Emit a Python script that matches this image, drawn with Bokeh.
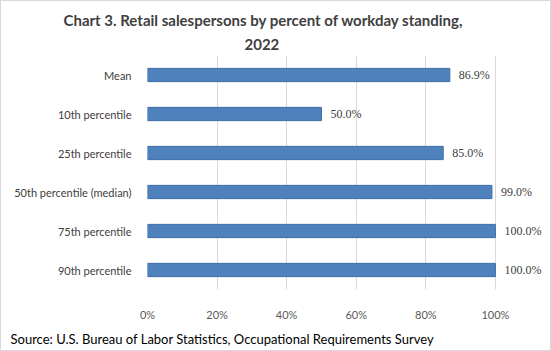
from bokeh.plotting import figure
from bokeh.models import (ColumnDataSource, FactorRange, Title, PrintfTickFormatter, FixedTicker,
                          LabelSet, InlineStyleSheet)
from bokeh.embed import file_html
from bokeh.resources import INLINE

categories = ["Mean", "10th percentile", "25th percentile", "50th percentile (median)",
              "75th percentile", "90th percentile"]
values = [86.9, 50.0, 85.0, 99.0, 100.0, 100.0]
labels = ["86.9%", "50.0%", "85.0%", "99.0%", "100.0%", "100.0%"]
x_ticks = [0, 20, 40, 60, 80, 100]
title_line1 = "Chart 3. Retail salespersons by percent of workday standing,"
title_line2 = "2022"
source_note = "Source: U.S. Bureau of Labor Statistics, Occupational Requirements Survey"

FONT = "Lato"

src = ColumnDataSource(dict(cat=categories, val=values, lab=labels))

# frame extends to the right so that data labels beyond 100% are not clipped
p = figure(width=551, height=351, output_backend="svg", toolbar_location=None,
           y_range=FactorRange(*reversed(categories)), x_range=(0, 114.4),
           min_border_left=147, min_border_right=6, min_border_top=55, min_border_bottom=61)
p.title = None
p.outline_line_color = None
p.background_fill_color = "white"
p.border_fill_color = "white"

p.hbar(y="cat", right="val", left=0, height=0.34, source=src,
       fill_color="#4F81BD", line_color="#3F6FA8", line_width=1)
lbl = LabelSet(x="val", y="cat", text="lab", source=src, x_offset=9,
               text_baseline="middle", text_align="left",
               text_font=FONT, text_font_size="12px", text_color="#404040")
p.add_layout(lbl)

p.xaxis.ticker = FixedTicker(ticks=x_ticks)
p.xaxis.formatter = PrintfTickFormatter(format="%d%%")
for ax in (p.xaxis[0], p.yaxis[0]):
    ax.axis_line_color = None
    ax.major_tick_line_color = None
    ax.minor_tick_line_color = None
    ax.major_label_text_font = FONT
    ax.major_label_text_font_size = "11px"
    ax.major_label_text_color = "#595959"
p.xaxis.major_label_standoff = 12
p.yaxis.major_label_standoff = 10
p.yaxis.major_label_text_color = "#404040"

p.xgrid.grid_line_color = "#d9d9d9"
p.xgrid.ticker = FixedTicker(ticks=x_ticks)
p.ygrid.grid_line_color = None

t2 = Title(text=title_line2, align="left", offset=97, text_font=FONT, text_font_size="15px",
           text_font_style="bold", text_color="#404040", standoff=12)
t1 = Title(text=title_line1, align="left", offset=-84, text_font=FONT, text_font_size="15px",
           text_font_style="bold", text_color="#404040", standoff=3)
p.add_layout(t2, "above")
p.add_layout(t1, "above")

s = Title(text=source_note, align="left", offset=-137, text_font=FONT, text_font_size="13px",
          text_font_style="normal", text_color="#000000")
p.add_layout(s, "below")

p.stylesheets = [InlineStyleSheet(css=":host::after { content: ''; position: absolute; inset: 0; "
                                      "border: 1px solid #d9d9d9; pointer-events: none; }")]

open("out.html", "w").write(file_html(p, INLINE))
